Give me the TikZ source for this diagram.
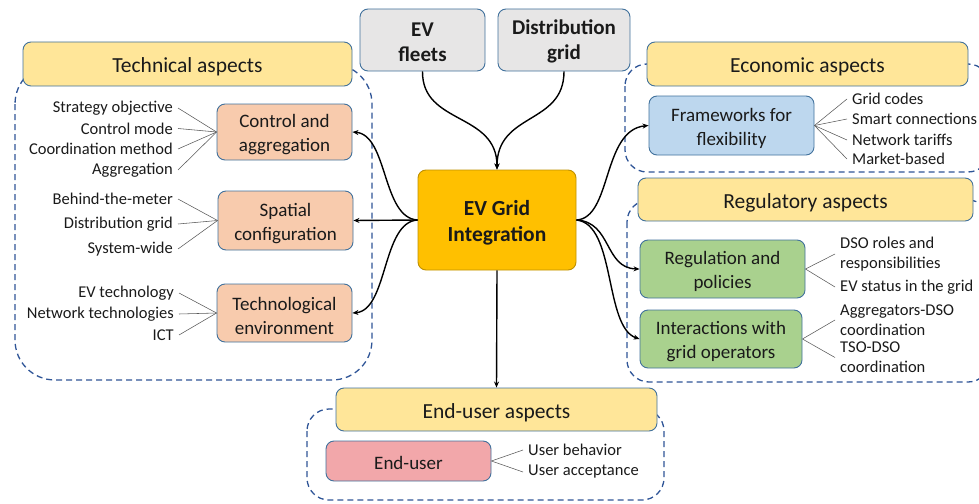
\documentclass[tikz,border=0pt]{standalone}
\usepackage{fontspec}
\setmainfont{Carlito}
\usetikzlibrary{arrows.meta}
\definecolor{hdrY}{HTML}{FFE699}
\definecolor{bordB}{HTML}{41719C}
\definecolor{peach}{HTML}{F8CBAD}
\definecolor{lblue}{HTML}{BDD7EE}
\definecolor{lgreen}{HTML}{A9D18E}
\definecolor{pinkbox}{HTML}{F2A7AA}
\definecolor{lgray}{HTML}{E7E6E6}
\definecolor{coreY}{HTML}{FFC000}
\definecolor{coreB}{HTML}{BF9000}
\definecolor{dashB}{HTML}{2F5597}
\definecolor{txt}{HTML}{1A1A1A}
\newcommand\myup[1]{\rule{0pt}{#1}}
\tikzset{
  lowertext/.style={execute at begin node={\rule{0pt}{#1}}},
  boxbase/.style={draw=bordB, line width=0.9pt, rounded corners=8pt, inner sep=0pt, align=center, text=txt},
  hdr/.style={boxbase, fill=hdrY, font=\fontsize{21.5}{25}\selectfont, lowertext=21pt},
  sub/.style={boxbase, font=\fontsize{19}{24}\selectfont},
  topbox/.style={boxbase, fill=lgray, font=\fontsize{21}{25}\selectfont\bfseries},
  corebox/.style={boxbase, draw=coreB, fill=coreY, font=\fontsize{21.5}{26}\selectfont\bfseries},
  itemR/.style={anchor=east, inner xsep=5pt, inner ysep=1pt, align=right, text=txt, font=\fontsize{16.5}{20}\selectfont},
  itemL/.style={anchor=west, inner xsep=5pt, inner ysep=1pt, align=left, text=txt, font=\fontsize{16.5}{20}\selectfont},
  thin/.style={draw=black!65, line width=0.55pt},
  conn/.style={draw=black, line width=1.4pt, -{Stealth[length=6pt,width=5pt]}},
  cont/.style={draw=dashB, line width=1.3pt, dash pattern=on 6pt off 4pt},
}
\begin{document}
\begin{tikzpicture}[x=1pt,y=-1pt]
\useasboundingbox (0,0) rectangle (979,503);
% dashed containers
\draw[cont, rounded corners=40pt] (15,64) rectangle (372,380);
\draw[cont, rounded corners=22pt] (625,64) rectangle (990,172);
\draw[cont, rounded corners=22pt] (627,200) rectangle (990,382);
\draw[cont, rounded corners=22pt] (307,409) rectangle (664,500);
% headers
\node[hdr, minimum width=329pt, minimum height=44pt] (techH) at (187.5,64) {Technical aspects};
\node[hdr, minimum width=321pt, minimum height=44pt] (econH) at (807.5,64) {Economic aspects};
\node[hdr, minimum width=335pt, minimum height=43pt] (regH) at (805.5,199.5) {Regulatory aspects};
\node[hdr, minimum width=321pt, minimum height=43pt] (endH) at (496.5,409.5) {End-user aspects};
% top boxes
\node[topbox, minimum width=125pt, minimum height=62pt] (evf) at (422.5,40) {\myup{17.5pt}EV\\fleets};
\node[topbox, minimum width=132pt, minimum height=62pt] (dg) at (564,40) {\myup{17.5pt}Distribution\\grid};
% core
\node[corebox, minimum width=158pt, minimum height=100pt] (core) at (497,220) {\myup{21pt}EV Grid\\Integration};
% sub boxes
\node[sub, fill=peach, minimum width=135pt, minimum height=56pt] (ca) at (284.5,132) {\myup{19pt}Control and\\aggregation};
\node[sub, fill=peach, minimum width=135pt, minimum height=59pt] (sc) at (285.5,220.5) {\myup{19pt}Spatial\\configuration};
\node[sub, fill=peach, minimum width=135pt, minimum height=58pt] (te) at (284.5,313) {\myup{19pt}Technological\\environment};
\node[sub, fill=lblue, minimum width=165pt, minimum height=59pt] (ff) at (731.5,125.5) {\myup{19pt}Frameworks for\\flexibility};
\node[sub, fill=lgreen, minimum width=165pt, minimum height=58pt] (rp) at (722.5,269) {\myup{19pt}Regulation and\\policies};
\node[sub, fill=lgreen, minimum width=162pt, minimum height=58pt] (ig) at (721,339) {\myup{19pt}Interactions with\\grid operators};
\node[sub, fill=pinkbox, minimum width=165pt, minimum height=40pt, lowertext=18pt] (eu) at (408.5,461) {End-user};
% technical items
\node[itemR] (t1) at (178,108) {Strategy objective};
\node[itemR] (t2) at (178,128.5) {Control mode};
\node[itemR] (t3) at (178,149) {Coordination method};
\node[itemR] (t4) at (178,170) {Aggregation};
\node[itemR] (s1) at (178,199) {Behind-the-meter};
\node[itemR] (s2) at (178,224) {Distribution grid};
\node[itemR] (s3) at (178,249) {System-wide};
\node[itemR] (e1) at (179,293) {EV technology};
\node[itemR] (e2) at (179,314) {Network technologies};
\node[itemR] (e3) at (179,335) {ICT};
\foreach \n in {t1,t2,t3,t4} \draw[thin] (\n.east) -- (ca.west);
\foreach \n in {s1,s2,s3} \draw[thin] (\n.east) -- (sc.west);
\foreach \n in {e1,e2,e3} \draw[thin] (\n.east) -- (te.west);
% economic items
\node[itemL] (f1) at (847,99) {Grid codes};
\node[itemL] (f2) at (847,119) {Smart connections};
\node[itemL] (f3) at (847,140) {Network tariffs};
\node[itemL] (f4) at (847,159) {Market-based};
\foreach \n in {f1,f2,f3,f4} \draw[thin] (ff.east) -- (\n.west);
% regulatory items
\node[itemL] (r1) at (835,254) {DSO roles and\\responsibilities};
\node[itemL] (r2) at (835,287) {EV status in the grid};
\node[itemL] (g1) at (835,320) {Aggregators-DSO\\coordination};
\node[itemL] (g2) at (835,357.5) {TSO-DSO\\coordination};
\foreach \n in {r1,r2} \draw[thin] (rp.east) -- (\n.west);
\foreach \n in {g1,g2} \draw[thin] (ig.east) -- (\n.west);
% end-user items
\node[itemL] (u1) at (523,450) {User behavior};
\node[itemL] (u2) at (523,472) {User acceptance};
\foreach \n in {u1,u2} \draw[thin] (eu.east) -- (\n.west);
% connectors
\draw[conn] (evf.south) .. controls (422,125) and (497,112) .. (core.north);
\draw[conn] (dg.south) .. controls (564,125) and (497,112) .. (core.north);
\draw[conn] (core.west) .. controls (382,218) and (388,135) .. (ca.east);
\draw[conn] (core.west) -- (sc.east);
\draw[conn] (core.west) .. controls (382,222) and (388,310) .. (te.east);
\draw[conn] (core.east) .. controls (612,218) and (602,130) .. (ff.west);
\draw[conn] (core.east) .. controls (612,222) and (604,268) .. (rp.west);
\draw[conn] (core.east) .. controls (616,224) and (604,327) .. (ig.west);
\draw[conn] (core.south) -- (endH.north);
\end{tikzpicture}
\end{document}
